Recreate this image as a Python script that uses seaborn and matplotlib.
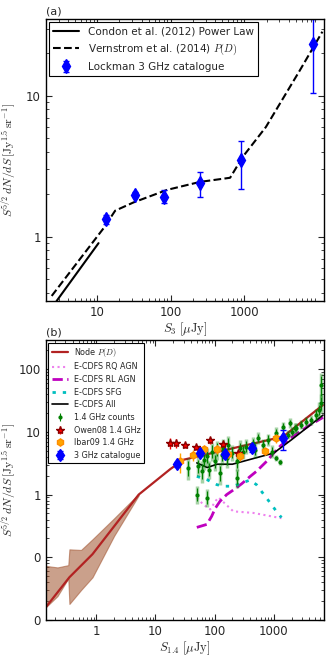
import numpy as np
import pandas as pd
import matplotlib
matplotlib.use("Agg")
import matplotlib.pyplot as plt
import seaborn as sns

# ---- panel (a) data ----
condon_x = [2.8, 10.4]
condon_y = [0.35, 0.90]
vern_x = [2.4, 12.2, 17.5, 31, 89, 250, 640, 720, 955, 1960, 5700, 11500]
vern_y = [0.38, 1.15, 1.53, 1.75, 2.15, 2.45, 2.62, 2.9, 3.7, 6.0, 15.2, 28.5]
lock_x = [13, 33, 80, 250, 900, 8600]
lock_y = [1.34, 1.99, 1.90, 2.42, 3.5, 23.3]
lock_lo = [0.10, 0.08, 0.17, 0.52, 1.32, 12.9]
lock_hi = [0.09, 0.08, 0.25, 0.48, 1.24, 11.5]

# ---- panel (b) data ----
node_x = [0.14, 0.35, 0.86, 5.2, 17.8, 30, 207, 1440, 6760]
node_y = [0.016, 0.048, 0.112, 1.0, 2.55, 3.6, 5.5, 8.4, 26.7]
band_x = [0.14, 0.22, 0.335, 0.35, 0.55, 0.86, 2.0, 5.2]
band_lo = [0.016, 0.024, 0.046, 0.018, 0.030, 0.048, 0.22, 0.97]
band_hi = [0.073, 0.069, 0.075, 0.134, 0.131, 0.194, 0.42, 1.03]

rq_x = [50, 65, 84, 105, 116, 207, 450, 1350]
rq_y = [0.88, 0.69, 0.58, 0.80, 0.90, 0.54, 0.51, 0.42]
rl_x = [50, 74, 89, 102, 123, 160, 220, 290, 400, 510, 760, 1000, 1300,
        1900, 4100, 6800]
rl_y = [0.30, 0.335, 0.45, 0.6, 0.78, 1.0, 1.23, 1.5, 1.95, 2.35, 3.4, 4.6,
        6.0, 7.9, 12.9, 17.0]
sfg_x = [50, 74, 109, 140, 207, 394, 510, 660, 850, 1110, 1350]
sfg_y = [1.95, 1.73, 1.44, 1.36, 1.36, 1.7, 1.44, 1.04, 0.76, 0.54, 0.43]
all_x = [50, 75, 110, 200, 1000, 2000, 6800]
all_y = [3.2, 2.7, 3.05, 3.05, 4.6, 7.5, 18.5]

counts_x = [36, 50, 53, 61, 65, 73, 75, 81, 89, 102, 109, 123, 132, 140, 160,
            170, 195, 236, 236, 268, 304, 345, 450, 480, 545, 660, 800, 920,
            1110, 1110, 1270, 1440, 1740, 1860, 2000, 2250, 2400, 2930, 3540,
            4300, 5200, 5900, 6300, 6300]
counts_y = [2.65, 1.0, 2.81, 2.34, 3.58, 4.05, 0.89, 2.49, 4.86, 3.37, 5.17,
            2.2, 4.3, 5.5, 3.8, 6.2, 4.6, 3.37, 1.84, 5.5, 4.86, 5.84, 6.6,
            5.17, 7.9, 6.2, 7.45, 4.86, 9.5, 3.8, 3.3, 12.1, 8.9, 13.7, 10.1,
            11.4, 11.4, 12.9, 14.6, 15.4, 18.6, 22.3, 28.4, 55.5]
counts_err = [0.35, 0.3, 0.3, 0.35, 0.3, 0.3, 0.3, 0.3, 0.3, 0.3, 0.3, 0.35,
              0.3, 0.3, 0.3, 0.3, 0.25, 0.3, 0.3, 0.25, 0.25, 0.25, 0.2, 0.25,
              0.2, 0.2, 0.2, 0.2, 0.2, 0.1, 0.1, 0.15, 0.15, 0.15, 0.15, 0.15,
              0.15, 0.15, 0.15, 0.15, 0.2, 0.25, 0.3, 0.45]

owen_x = [17.8, 22.5, 31.8, 48.7, 84, 137, 245]
owen_y = [6.6, 6.6, 6.2, 5.8, 7.3, 6.35, 4.6]
owen_err = [0.2, 0.15, 0.1, 0.12, 0.12, 0.12, 0.12]

ibar_x = [26, 42.9, 66.5, 109, 166, 268, 708, 1082]
ibar_y = [3.38, 4.3, 5.3, 5.3, 4.47, 4.06, 4.87, 7.9]
ibar_err = [0.35, 0.2, 0.15, 0.15, 0.12, 0.15, 0.12, 0.15]

ghz3_x = [23, 55.5, 150, 422, 1440]
ghz3_y = [3.06, 4.52, 4.41, 5.56, 7.9]
ghz3_err = [0.1, 0.1, 0.12, 0.15, 0.35]

sns.set_style("ticks")
plt.rcParams.update({
    "font.family": ["DejaVu Sans"],
    "mathtext.fontset": "cm",
    "xtick.direction": "in",
    "ytick.direction": "in",
    "xtick.top": True,
    "ytick.right": True,
    "axes.edgecolor": "black",
    "axes.linewidth": 1.0,
})

fig = plt.figure(figsize=(3.3, 6.6), dpi=100)
ylab = r"$S^{5/2}\,dN/dS\,[\mathrm{Jy}^{1.5}\,\mathrm{sr}^{-1}]$"

# ===== panel (a) =====
ax1 = fig.add_axes([0.139, 0.544, 0.842, 0.427])
sns.lineplot(x=condon_x, y=condon_y, ax=ax1, color="black", lw=1.5,
             sort=False, estimator=None, label="Condon et al. (2012) Power Law")
sns.lineplot(x=vern_x, y=vern_y, ax=ax1, color="black", lw=1.5, ls="--",
             sort=False, estimator=None,
             label=r"Vernstrom et al. (2014) $P(D)$")
ax1.errorbar(lock_x, lock_y, yerr=[lock_lo, lock_hi], fmt="d", color="blue",
             ms=7, ecolor="blue", elinewidth=1, capsize=2,
             label="Lockman 3 GHz catalogue")
ax1.set_xscale("log")
ax1.set_yscale("log")
ax1.set_xlim(2.0, 12000)
ax1.set_ylim(0.35, 35)
ax1.set_xticks([10, 100, 1000])
ax1.set_xticklabels(["10", "100", "1000"])
ax1.set_yticks([1, 10])
ax1.set_yticklabels(["1", "10"])
ax1.tick_params(labelsize=8.5, length=4, width=0.8)
ax1.tick_params(which="minor", length=2, width=0.6)
ax1.set_xlabel(r"$S_3\ [\mu\mathrm{Jy}]$", fontsize=9, labelpad=1)
ax1.set_ylabel(ylab, fontsize=8.5)
ax1.yaxis.set_label_coords(-0.095, 0.5)
ax1.text(0.0, 1.01, "(a)", transform=ax1.transAxes, fontsize=8,
         ha="left", va="bottom")
leg1 = ax1.legend(loc="upper left", fontsize=7.5, fancybox=False,
                  edgecolor="black", framealpha=1, borderaxespad=0.3,
                  handlelength=2.5, numpoints=1)
leg1.get_frame().set_linewidth(0.8)

# ===== panel (b) =====
ax2 = fig.add_axes([0.139, 0.0606, 0.842, 0.424])
ax2.fill_between(band_x, band_lo, band_hi, color="sienna", alpha=0.55,
                 edgecolor="sienna", lw=0.8)
sns.lineplot(x=node_x, y=node_y, ax=ax2, color="firebrick", lw=1.6,
             sort=False, estimator=None, label=r"Node $P(D)$")
sns.lineplot(x=rq_x, y=rq_y, ax=ax2, color="violet", lw=1.5, ls=":",
             sort=False, estimator=None, label="E-CDFS RQ AGN")
sns.lineplot(x=rl_x, y=rl_y, ax=ax2, color="m", lw=2.0, ls="--",
             sort=False, estimator=None, label="E-CDFS RL AGN")
sns.lineplot(x=sfg_x, y=sfg_y, ax=ax2, color="c", lw=2.0,
             ls=(0, (1.2, 2.5)),
             sort=False, estimator=None, label="E-CDFS SFG")
sns.lineplot(x=all_x, y=all_y, ax=ax2, color="black", lw=1.2,
             sort=False, estimator=None, label="E-CDFS All")

cy = np.array(counts_y)
ce = np.array(counts_err)
ax2.errorbar(counts_x, cy, yerr=[cy * ce, cy * ce * 1.3], fmt="none",
             ecolor="green", elinewidth=2.5, alpha=0.35)
ax2.errorbar(counts_x, cy, yerr=[cy * ce * 0.7, cy * ce * 0.9], fmt="o",
             color="green", ms=2, ecolor="green", elinewidth=0.8,
             label="1.4 GHz counts")
oy = np.array(owen_y)
ax2.errorbar(owen_x, oy, yerr=oy * np.array(owen_err), fmt="*", color="red",
             mec="darkred", ms=6, ecolor="red", elinewidth=1,
             label="Owen08 1.4 GHz")
iy = np.array(ibar_y)
ax2.errorbar(ibar_x, iy, yerr=iy * np.array(ibar_err), fmt="h",
             color="orange", mec="darkorange", ms=5, ecolor="orange",
             elinewidth=1, label="Ibar09 1.4 GHz")
gy = np.array(ghz3_y)
ax2.errorbar(ghz3_x, gy, yerr=gy * np.array(ghz3_err), fmt="d",
             color="blue", ms=6, ecolor="blue", elinewidth=1, capsize=2,
             label="3 GHz catalogue")

ax2.set_xscale("log")
ax2.set_yscale("log")
ax2.set_xlim(0.14, 7000)
ax2.set_ylim(0.01, 290)
ax2.set_xticks([1, 10, 100, 1000])
ax2.set_xticklabels(["1", "10", "100", "1000"])
ax2.set_yticks([0.01, 0.1, 1, 10, 100])
ax2.set_yticklabels(["0", "0", "1", "10", "100"])
ax2.tick_params(labelsize=8.5, length=4, width=0.8)
ax2.tick_params(which="minor", length=2, width=0.6)
ax2.set_xlabel(r"$S_{1.4}\ [\mu\mathrm{Jy}]$", fontsize=9, labelpad=1)
ax2.set_ylabel(ylab, fontsize=8.5)
ax2.yaxis.set_label_coords(-0.095, 0.5)
ax2.text(0.0, 1.01, "(b)", transform=ax2.transAxes, fontsize=8,
         ha="left", va="bottom")
leg2 = ax2.legend(loc="upper left", fontsize=5.8, fancybox=False,
                  edgecolor="black", framealpha=1, borderaxespad=0.3,
                  handlelength=2.0, numpoints=1, labelspacing=0.45)
leg2.get_frame().set_linewidth(0.8)

fig.savefig("out.png", dpi=100)
